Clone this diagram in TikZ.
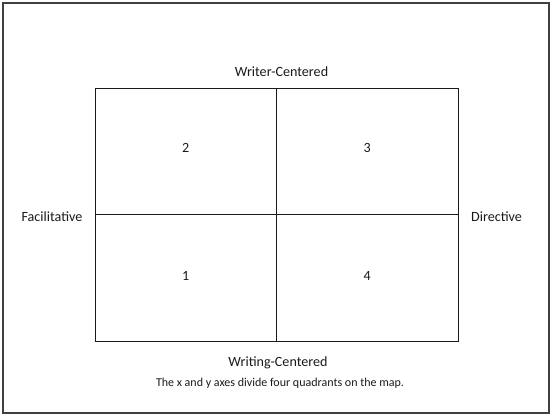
\documentclass[tikz,border=0pt]{standalone}
\usepackage{fontspec}
\setmainfont{Carlito}
\usetikzlibrary{positioning}
\definecolor{ink}{HTML}{1A1A1A}
\definecolor{framegray}{HTML}{404040}

\begin{document}
\begin{tikzpicture}[
    x=1pt, y=-1pt,
    every node/.style={font=\fontsize{14.1}{16}\selectfont, text=ink, align=center},
    % Quadrant cell
    quad/.style={rectangle, draw=ink, line width=0.7pt, minimum width=181.5pt,
                 minimum height=126.5pt, inner sep=0pt},
    qnum/.style={inner sep=0pt},
    axlabel/.style={inner sep=2pt}
]

% ========== Frame ==========
\useasboundingbox (0, 0) rectangle (553, 416);
\draw[framegray, line width=1.1pt] (3, 3) rectangle (549, 413);

% ========== Quadrants ==========
\node[quad] at (185.75, 151.25) (q2) {};
\node[quad] at (367.25, 151.25) (q3) {};
\node[quad] at (185.75, 277.75) (q1) {};
\node[quad] at (367.25, 277.75) (q4) {};

\node[qnum] at ([yshift=3pt]q2.center) (n2) {2};
\node[qnum] at ([yshift=3pt]q3.center) (n3) {3};
\node[qnum] at ([yshift=2pt]q1.center) (n1) {1};
\node[qnum] at ([yshift=2pt]q4.center) (n4) {4};

% ========== Axis labels ==========
\node[axlabel] at (281.5, 72) (writer) {Writer-Centered};
\node[axlabel] at (278, 363) (writing) {Writing-Centered};
\node[axlabel] at (52, 217) (facil) {Facilitative};
\node[axlabel] at (496.5, 217) (direct) {Directive};

% ========== Caption ==========
\node[font=\fontsize{12}{14}\selectfont] at (280, 383) (caption)
    {The x and y axes divide four quadrants on the map.};

\end{tikzpicture}
\end{document}
